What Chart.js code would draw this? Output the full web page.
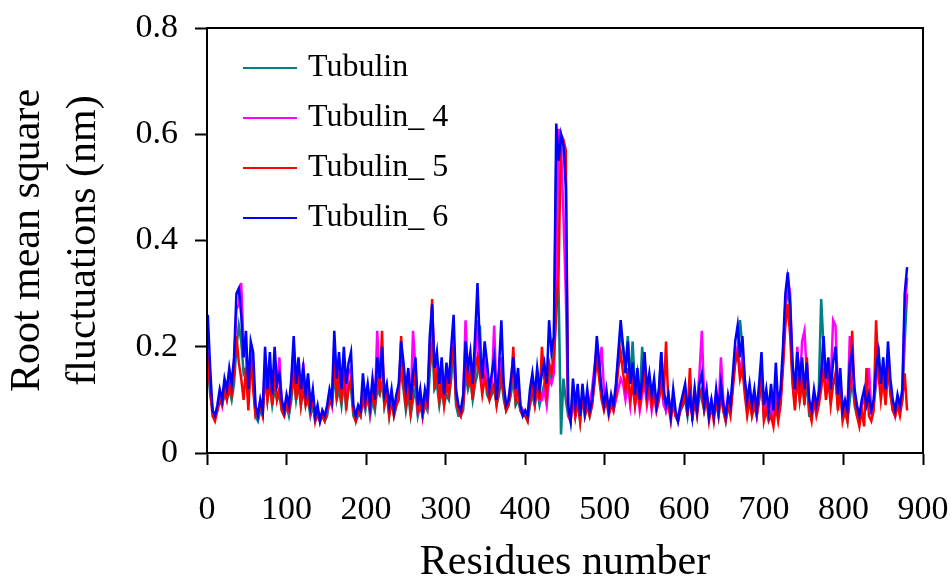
<!DOCTYPE html>
<html lang="en">
<head>
<meta charset="UTF-8" />
<title>RMSF Tubulin</title>
<script src="https://cdn.jsdelivr.net/npm/chart.js"></script>
<style>
  body { margin: 0; background: #fff; }
  #grafico { display: block; }
</style>
</head>
<body>
<canvas id="grafico" width="952" height="580"></canvas>
<script>
  // residue numbers (every 3rd residue)
  const residues = [
    1, 4, 7, 10, 13, 16, 19, 22, 25, 28,
    31, 34, 37, 40, 43, 46, 49, 52, 55, 58,
    61, 64, 67, 70, 73, 76, 79, 82, 85, 88,
    91, 94, 97, 100, 103, 106, 109, 112, 115, 118,
    121, 124, 127, 130, 133, 136, 139, 142, 145, 148,
    151, 154, 157, 160, 163, 166, 169, 172, 175, 178,
    181, 184, 187, 190, 193, 196, 199, 202, 205, 208,
    211, 214, 217, 220, 223, 226, 229, 232, 235, 238,
    241, 244, 247, 250, 253, 256, 259, 262, 265, 268,
    271, 274, 277, 280, 283, 286, 289, 292, 295, 298,
    301, 304, 307, 310, 313, 316, 319, 322, 325, 328,
    331, 334, 337, 340, 343, 346, 349, 352, 355, 358,
    361, 364, 367, 370, 373, 376, 379, 382, 385, 388,
    391, 394, 397, 400, 403, 406, 409, 412, 415, 418,
    421, 424, 427, 430, 433, 436, 439, 442, 445, 448,
    451, 454, 457, 460, 463, 466, 469, 472, 475, 478,
    481, 484, 487, 490, 493, 496, 499, 502, 505, 508,
    511, 514, 517, 520, 523, 526, 529, 532, 535, 538,
    541, 544, 547, 550, 553, 556, 559, 562, 565, 568,
    571, 574, 577, 580, 583, 586, 589, 592, 595, 598,
    601, 604, 607, 610, 613, 616, 619, 622, 625, 628,
    631, 634, 637, 640, 643, 646, 649, 652, 655, 658,
    661, 664, 667, 670, 673, 676, 679, 682, 685, 688,
    691, 694, 697, 700, 703, 706, 709, 712, 715, 718,
    721, 724, 727, 730, 733, 736, 739, 742, 745, 748,
    751, 754, 757, 760, 763, 766, 769, 772, 775, 778,
    781, 784, 787, 790, 793, 796, 799, 802, 805, 808,
    811, 814, 817, 820, 823, 826, 829, 832, 835, 838,
    841, 844, 847, 850, 853, 856, 859, 862, 865, 868,
    871, 874, 877, 880
  ];

  const tubulin = [
    0.17, 0.11, 0.08, 0.07, 0.08, 0.10, 0.09, 0.11, 0.10, 0.12,
    0.10, 0.13, 0.20, 0.24, 0.21, 0.15, 0.16, 0.10, 0.16, 0.14,
    0.07, 0.06, 0.08, 0.07, 0.15, 0.10, 0.13, 0.09, 0.12, 0.10,
    0.11, 0.08, 0.07, 0.09, 0.07, 0.10, 0.15, 0.10, 0.13, 0.09,
    0.12, 0.09, 0.10, 0.07, 0.09, 0.06, 0.07, 0.06, 0.07, 0.06,
    0.07, 0.10, 0.09, 0.15, 0.10, 0.12, 0.09, 0.14, 0.08, 0.13,
    0.12, 0.07, 0.06, 0.07, 0.07, 0.10, 0.08, 0.11, 0.07, 0.10,
    0.08, 0.12, 0.11, 0.13, 0.09, 0.12, 0.07, 0.10, 0.07, 0.09,
    0.13, 0.15, 0.12, 0.08, 0.11, 0.07, 0.10, 0.12, 0.07, 0.09,
    0.07, 0.09, 0.08, 0.15, 0.21, 0.12, 0.13, 0.09, 0.12, 0.09,
    0.11, 0.10, 0.14, 0.21, 0.09, 0.07, 0.07, 0.08, 0.15, 0.12,
    0.14, 0.10, 0.13, 0.15, 0.24, 0.13, 0.16, 0.11, 0.10, 0.11,
    0.12, 0.09, 0.11, 0.14, 0.10, 0.08, 0.09, 0.11, 0.14, 0.09,
    0.10, 0.08, 0.07, 0.07, 0.06, 0.09, 0.11, 0.09, 0.12, 0.09,
    0.11, 0.13, 0.10, 0.15, 0.14, 0.20, 0.55, 0.30, 0.035, 0.14,
    0.10, 0.07, 0.06, 0.10, 0.07, 0.10, 0.06, 0.11, 0.07, 0.09,
    0.07, 0.09, 0.14, 0.20, 0.15, 0.11, 0.09, 0.10, 0.08, 0.10,
    0.09, 0.12, 0.18, 0.23, 0.20, 0.16, 0.22, 0.13, 0.21, 0.12,
    0.15, 0.10, 0.20, 0.14, 0.11, 0.13, 0.10, 0.12, 0.09, 0.11,
    0.19, 0.11, 0.08, 0.10, 0.07, 0.10, 0.07, 0.06, 0.08, 0.09,
    0.10, 0.07, 0.11, 0.07, 0.12, 0.08, 0.12, 0.10, 0.08, 0.11,
    0.07, 0.09, 0.07, 0.10, 0.07, 0.11, 0.08, 0.06, 0.09, 0.08,
    0.14, 0.17, 0.19, 0.25, 0.20, 0.13, 0.08, 0.11, 0.07, 0.09,
    0.07, 0.10, 0.14, 0.07, 0.09, 0.07, 0.08, 0.06, 0.11, 0.07,
    0.10, 0.17, 0.26, 0.32, 0.27, 0.14, 0.09, 0.14, 0.10, 0.13,
    0.10, 0.13, 0.07, 0.07, 0.10, 0.08, 0.12, 0.29, 0.20, 0.12,
    0.15, 0.10, 0.13, 0.14, 0.09, 0.12, 0.07, 0.08, 0.06, 0.10,
    0.14, 0.09, 0.07, 0.06, 0.09, 0.10, 0.09, 0.11, 0.08, 0.09,
    0.13, 0.20, 0.13, 0.15, 0.10, 0.17, 0.12, 0.08, 0.07, 0.10,
    0.08, 0.10, 0.21, 0.30
  ];

  const tubulin4 = [
    0.19, 0.13, 0.08, 0.07, 0.08, 0.11, 0.09, 0.13, 0.11, 0.15,
    0.12, 0.16, 0.27, 0.28, 0.32, 0.20, 0.18, 0.11, 0.19, 0.16,
    0.08, 0.07, 0.10, 0.08, 0.17, 0.11, 0.16, 0.10, 0.17, 0.12,
    0.18, 0.09, 0.08, 0.10, 0.08, 0.13, 0.20, 0.12, 0.16, 0.11,
    0.17, 0.10, 0.14, 0.08, 0.11, 0.07, 0.08, 0.06, 0.08, 0.07,
    0.08, 0.11, 0.09, 0.20, 0.12, 0.16, 0.11, 0.18, 0.12, 0.15,
    0.16, 0.08, 0.07, 0.08, 0.07, 0.13, 0.09, 0.12, 0.08, 0.13,
    0.09, 0.23, 0.13, 0.17, 0.10, 0.12, 0.08, 0.11, 0.08, 0.10,
    0.12, 0.19, 0.15, 0.11, 0.14, 0.09, 0.23, 0.16, 0.08, 0.11,
    0.07, 0.11, 0.09, 0.20, 0.27, 0.15, 0.17, 0.12, 0.16, 0.10,
    0.15, 0.12, 0.18, 0.22, 0.11, 0.08, 0.07, 0.10, 0.25, 0.14,
    0.17, 0.12, 0.18, 0.25, 0.16, 0.12, 0.17, 0.14, 0.11, 0.13,
    0.24, 0.10, 0.14, 0.18, 0.12, 0.09, 0.10, 0.13, 0.15, 0.11,
    0.13, 0.09, 0.08, 0.08, 0.07, 0.11, 0.13, 0.10, 0.12, 0.10,
    0.10, 0.12, 0.09, 0.14, 0.13, 0.15, 0.30, 0.61, 0.58, 0.45,
    0.30, 0.07, 0.06, 0.10, 0.07, 0.09, 0.07, 0.10, 0.08, 0.11,
    0.09, 0.12, 0.16, 0.20, 0.15, 0.20, 0.12, 0.10, 0.08, 0.10,
    0.08, 0.10, 0.12, 0.14, 0.13, 0.10, 0.13, 0.09, 0.14, 0.09,
    0.12, 0.08, 0.11, 0.13, 0.09, 0.12, 0.08, 0.11, 0.08, 0.10,
    0.13, 0.09, 0.08, 0.11, 0.07, 0.09, 0.07, 0.06, 0.09, 0.10,
    0.12, 0.08, 0.10, 0.07, 0.11, 0.09, 0.15, 0.23, 0.10, 0.11,
    0.08, 0.10, 0.07, 0.11, 0.08, 0.18, 0.10, 0.07, 0.09, 0.08,
    0.13, 0.18, 0.20, 0.15, 0.18, 0.12, 0.09, 0.11, 0.08, 0.10,
    0.07, 0.11, 0.15, 0.08, 0.11, 0.07, 0.10, 0.07, 0.13, 0.08,
    0.11, 0.18, 0.28, 0.33, 0.30, 0.15, 0.10, 0.20, 0.12, 0.21,
    0.23, 0.15, 0.09, 0.08, 0.10, 0.08, 0.10, 0.14, 0.18, 0.12,
    0.16, 0.13, 0.25, 0.24, 0.12, 0.14, 0.07, 0.09, 0.08, 0.22,
    0.16, 0.10, 0.08, 0.07, 0.09, 0.10, 0.12, 0.16, 0.08, 0.09,
    0.14, 0.17, 0.12, 0.16, 0.11, 0.16, 0.12, 0.09, 0.07, 0.10,
    0.08, 0.11, 0.26, 0.33
  ];

  const tubulin5 = [
    0.18, 0.12, 0.07, 0.06, 0.08, 0.10, 0.09, 0.12, 0.10, 0.13,
    0.11, 0.15, 0.22, 0.17, 0.14, 0.10, 0.16, 0.08, 0.18, 0.12,
    0.07, 0.08, 0.09, 0.07, 0.15, 0.10, 0.14, 0.09, 0.15, 0.10,
    0.12, 0.08, 0.07, 0.09, 0.08, 0.11, 0.17, 0.10, 0.14, 0.09,
    0.13, 0.09, 0.11, 0.08, 0.10, 0.06, 0.08, 0.06, 0.07, 0.06,
    0.08, 0.10, 0.09, 0.17, 0.11, 0.14, 0.10, 0.15, 0.09, 0.12,
    0.14, 0.08, 0.06, 0.08, 0.07, 0.11, 0.09, 0.12, 0.08, 0.11,
    0.09, 0.14, 0.12, 0.23, 0.09, 0.11, 0.07, 0.10, 0.07, 0.09,
    0.10, 0.22, 0.13, 0.09, 0.13, 0.08, 0.12, 0.15, 0.08, 0.10,
    0.07, 0.10, 0.09, 0.18, 0.29, 0.13, 0.15, 0.10, 0.14, 0.09,
    0.13, 0.11, 0.16, 0.20, 0.10, 0.08, 0.07, 0.09, 0.17, 0.13,
    0.15, 0.10, 0.16, 0.18, 0.15, 0.11, 0.14, 0.12, 0.10, 0.12,
    0.13, 0.09, 0.12, 0.15, 0.11, 0.08, 0.09, 0.12, 0.20, 0.10,
    0.12, 0.08, 0.07, 0.07, 0.06, 0.10, 0.12, 0.09, 0.13, 0.10,
    0.20, 0.14, 0.11, 0.17, 0.15, 0.18, 0.26, 0.35, 0.60, 0.59,
    0.57, 0.08, 0.06, 0.12, 0.07, 0.10, 0.06, 0.11, 0.07, 0.09,
    0.07, 0.09, 0.13, 0.18, 0.14, 0.10, 0.08, 0.10, 0.07, 0.09,
    0.08, 0.11, 0.16, 0.19, 0.15, 0.12, 0.16, 0.10, 0.13, 0.09,
    0.13, 0.09, 0.12, 0.15, 0.10, 0.13, 0.09, 0.12, 0.08, 0.10,
    0.14, 0.10, 0.21, 0.09, 0.06, 0.10, 0.07, 0.06, 0.08, 0.09,
    0.11, 0.07, 0.16, 0.06, 0.10, 0.07, 0.11, 0.12, 0.08, 0.10,
    0.06, 0.09, 0.06, 0.10, 0.07, 0.11, 0.08, 0.06, 0.09, 0.07,
    0.12, 0.17, 0.19, 0.14, 0.16, 0.11, 0.07, 0.10, 0.07, 0.09,
    0.07, 0.10, 0.15, 0.06, 0.08, 0.06, 0.07, 0.05, 0.09, 0.06,
    0.09, 0.16, 0.24, 0.28, 0.22, 0.13, 0.08, 0.15, 0.10, 0.14,
    0.09, 0.18, 0.08, 0.06, 0.10, 0.07, 0.09, 0.12, 0.16, 0.10,
    0.14, 0.09, 0.13, 0.15, 0.08, 0.12, 0.06, 0.08, 0.06, 0.13,
    0.23, 0.10, 0.07, 0.05, 0.08, 0.05, 0.16, 0.07, 0.06, 0.08,
    0.25, 0.15, 0.10, 0.14, 0.09, 0.17, 0.11, 0.08, 0.07, 0.09,
    0.07, 0.10, 0.15, 0.08
  ];

  const tubulin6 = [
    0.26, 0.16, 0.08, 0.07, 0.09, 0.12, 0.10, 0.14, 0.12, 0.16,
    0.13, 0.18, 0.30, 0.31, 0.26, 0.18, 0.23, 0.12, 0.21, 0.19,
    0.09, 0.07, 0.10, 0.08, 0.20, 0.12, 0.19, 0.11, 0.20, 0.13,
    0.15, 0.10, 0.08, 0.11, 0.09, 0.14, 0.22, 0.13, 0.18, 0.12,
    0.16, 0.11, 0.15, 0.09, 0.12, 0.07, 0.09, 0.06, 0.08, 0.07,
    0.09, 0.12, 0.10, 0.23, 0.14, 0.19, 0.12, 0.20, 0.13, 0.17,
    0.19, 0.09, 0.07, 0.09, 0.08, 0.15, 0.10, 0.13, 0.09, 0.14,
    0.10, 0.18, 0.14, 0.20, 0.11, 0.13, 0.09, 0.12, 0.08, 0.11,
    0.13, 0.21, 0.17, 0.12, 0.16, 0.10, 0.15, 0.18, 0.09, 0.12,
    0.08, 0.12, 0.10, 0.22, 0.28, 0.16, 0.19, 0.13, 0.18, 0.11,
    0.17, 0.13, 0.20, 0.26, 0.12, 0.09, 0.08, 0.11, 0.21, 0.16,
    0.19, 0.13, 0.22, 0.32, 0.20, 0.14, 0.21, 0.17, 0.12, 0.15,
    0.18, 0.10, 0.16, 0.25, 0.13, 0.09, 0.10, 0.14, 0.18, 0.12,
    0.16, 0.09, 0.07, 0.08, 0.07, 0.12, 0.15, 0.11, 0.16, 0.12,
    0.15, 0.17, 0.13, 0.25, 0.19, 0.22, 0.62, 0.55, 0.60, 0.58,
    0.50, 0.09, 0.06, 0.14, 0.09, 0.13, 0.07, 0.13, 0.08, 0.12,
    0.08, 0.10, 0.15, 0.22, 0.17, 0.12, 0.09, 0.12, 0.08, 0.11,
    0.09, 0.13, 0.19, 0.25, 0.20, 0.15, 0.21, 0.13, 0.17, 0.11,
    0.16, 0.10, 0.14, 0.19, 0.12, 0.15, 0.11, 0.14, 0.09, 0.12,
    0.19, 0.12, 0.09, 0.11, 0.07, 0.12, 0.08, 0.06, 0.09, 0.11,
    0.13, 0.08, 0.11, 0.07, 0.12, 0.08, 0.13, 0.15, 0.09, 0.12,
    0.07, 0.10, 0.07, 0.12, 0.08, 0.13, 0.09, 0.07, 0.11, 0.09,
    0.15, 0.21, 0.24, 0.18, 0.22, 0.14, 0.10, 0.13, 0.09, 0.12,
    0.08, 0.13, 0.19, 0.09, 0.12, 0.08, 0.13, 0.08, 0.17, 0.09,
    0.12, 0.20, 0.30, 0.34, 0.28, 0.17, 0.12, 0.19, 0.14, 0.18,
    0.12, 0.17, 0.10, 0.08, 0.12, 0.09, 0.11, 0.15, 0.22, 0.14,
    0.18, 0.12, 0.17, 0.20, 0.11, 0.16, 0.08, 0.10, 0.08, 0.17,
    0.19, 0.12, 0.09, 0.07, 0.10, 0.12, 0.09, 0.11, 0.08, 0.10,
    0.16, 0.19, 0.13, 0.18, 0.12, 0.21, 0.14, 0.10, 0.08, 0.11,
    0.09, 0.12, 0.30, 0.35
  ];

  const seriesNames = ["Tubulin", "Tubulin_ 4", "Tubulin_ 5", "Tubulin_ 6"];
  const seriesColors = ["#008080", "#ff00ff", "#ff0000", "#0000ff"];
  const xTicks = [0, 100, 200, 300, 400, 500, 600, 700, 800, 900];
  const yTicks = [0, 0.2, 0.4, 0.6, 0.8];

  const serif = "'Liberation Serif', 'Times New Roman', serif";

  // caja alrededor del area de datos
  const marco = {
    id: "marco",
    afterDatasetsDraw(chart) {
      const { ctx, chartArea: a } = chart;
      ctx.save();
      ctx.strokeStyle = "#000";
      ctx.lineWidth = 2;
      ctx.strokeRect(a.left, a.top, a.right - a.left, a.bottom - a.top);
      ctx.restore();
    }
  };

  // leyenda dentro del grafico, arriba a la izquierda
  const leyenda = {
    id: "leyenda",
    afterDraw(chart) {
      const ctx = chart.ctx;
      ctx.save();
      ctx.font = "32px " + serif;
      ctx.textBaseline = "middle";
      chart.data.datasets.forEach((ds, i) => {
        const y = 68 + i * 50;
        ctx.strokeStyle = ds.borderColor;
        ctx.lineWidth = 2;
        ctx.beginPath();
        ctx.moveTo(243, y);
        ctx.lineTo(297, y);
        ctx.stroke();
        ctx.fillStyle = "#000";
        ctx.fillText(ds.label, 308, y);
      });
      ctx.restore();
    }
  };

  const valores = [tubulin, tubulin4, tubulin5, tubulin6];
  const datasets = valores.map((serie, k) => ({
    label: seriesNames[k],
    data: residues.map((r, i) => ({ x: r, y: serie[i] })),
    borderColor: seriesColors[k],
    borderWidth: 2.5,
    pointRadius: 0,
    tension: 0,
    fill: false,
    order: 4 - k
  }));

  new Chart(document.getElementById("grafico"), {
    type: "line",
    data: { datasets },
    options: {
      responsive: false,
      animation: false,
      layout: { padding: { top: 28, right: 29, left: 0, bottom: 0 } },
      plugins: { legend: { display: false }, tooltip: { enabled: false } },
      scales: {
        x: {
          type: "linear",
          min: 0,
          max: 900,
          afterBuildTicks: s => { s.ticks = xTicks.map(v => ({ value: v })); },
          afterFit: s => { s.height = 127; s.paddingLeft = 0; s.paddingRight = 0; },
          grid: { drawOnChartArea: false, drawTicks: true, tickLength: 12, tickWidth: 2, tickColor: "#000" },
          border: { display: true, color: "#000", width: 2 },
          ticks: { color: "#000", padding: 25, maxRotation: 0, autoSkip: false, font: { family: serif, size: 34 } },
          title: {
            display: true,
            text: "Residues number",
            color: "#000",
            font: { family: serif, size: 42 },
            padding: { top: 0, bottom: -8 }
          }
        },
        y: {
          min: 0,
          max: 0.8,
          afterBuildTicks: s => { s.ticks = yTicks.map(v => ({ value: v })); },
          afterFit: s => { s.width = 207; s.paddingTop = 0; s.paddingBottom = 0; },
          grid: { drawOnChartArea: false, drawTicks: true, tickLength: 12, tickWidth: 2, tickColor: "#000" },
          border: { display: true, color: "#000", width: 2 },
          ticks: { color: "#000", padding: 17, font: { family: serif, size: 34 } },
          title: {
            display: true,
            text: ["Root mean square", "fluctuations (nm)"],
            color: "#000",
            font: { family: serif, size: 42, lineHeight: 1.333 },
            padding: { top: 0, bottom: 0 }
          }
        }
      }
    },
    plugins: [marco, leyenda]
  });
</script>
</body>
</html>
